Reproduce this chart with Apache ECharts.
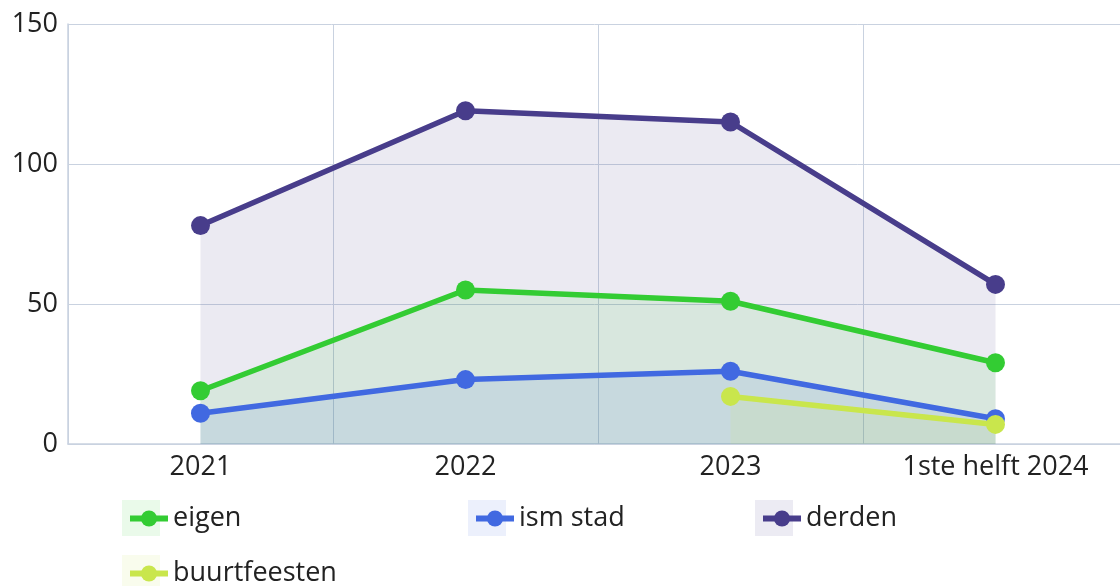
<!DOCTYPE html>
<html>
<head>
<meta charset="utf-8">
<script src="https://cdn.jsdelivr.net/npm/echarts@6/dist/echarts.min.js"></script>
<style>
  html, body { margin: 0; padding: 0; background: #fff; }
  #chart { width: 1120px; height: 586px; }
</style>
</head>
<body>
<div id="chart"></div>
<script>
const categories = ['2021', '2022', '2023', '1ste helft 2024'];
const eigen = [19, 55, 51, 29];
const ismStad = [11, 23, 26, 9];
const derden = [78, 119, 115, 57];
const buurtfeesten = [null, null, 17, 7];
const yTicks = { min: 0, max: 150, interval: 50 };

const font = 'Open Sans';
const gridColor = '#c9d2e0';

const colors = {
  eigen: '#33cc33',
  ismStad: '#4169e1',
  derden: '#483d8b',
  buurtfeesten: '#c9e64c'
};

function lineSeries(name, data, color, z) {
  return {
    name: name,
    type: 'line',
    data: data,
    z: z,
    symbol: 'circle',
    symbolSize: 19,
    color: color,
    lineStyle: { width: 5.5, color: color },
    itemStyle: { color: color },
    areaStyle: { color: color, opacity: 0.11 },
    emphasis: { disabled: true }
  };
}

function legendAt(name, left, top) {
  return {
    data: [name],
    left: left,
    top: top,
    itemWidth: 38,
    itemHeight: 20,
    lineStyle: { width: 6 },
    textStyle: { fontFamily: font, fontSize: 27, color: '#222' },
    selectedMode: false
  };
}

function iconBg(x, y, color) {
  return {
    type: 'rect',
    left: x, top: y, z: -1,
    shape: { width: 38, height: 36 },
    style: { fill: color, opacity: 0.1 }
  };
}

const chart = echarts.init(document.getElementById('chart'));
chart.setOption({
  animation: false,
  grid: { left: 68, width: 1060, top: 24, height: 420, outerBoundsMode: 'none', containLabel: false },
  xAxis: {
    type: 'category',
    data: categories,
    boundaryGap: true,
    axisLine: { show: true, lineStyle: { color: gridColor, width: 1.5 } },
    axisTick: { show: false },
    splitLine: { show: true, lineStyle: { color: gridColor, width: 1 } },
    axisLabel: { fontFamily: font, fontSize: 27, color: '#222', margin: 10 }
  },
  yAxis: {
    type: 'value',
    min: yTicks.min,
    max: yTicks.max,
    interval: yTicks.interval,
    axisLine: { show: true, lineStyle: { color: gridColor, width: 1.5 } },
    axisTick: { show: false },
    splitLine: { show: true, lineStyle: { color: gridColor, width: 1 } },
    axisLabel: { fontFamily: font, fontSize: 27, color: '#222', margin: 10 }
  },
  legend: [
    legendAt('eigen', 122, 500),
    legendAt('ism stad', 468, 500),
    legendAt('derden', 755, 500),
    legendAt('buurtfeesten', 122, 555)
  ],
  graphic: [
    iconBg(122, 500, colors.eigen),
    iconBg(468, 500, colors.ismStad),
    iconBg(755, 500, colors.derden),
    iconBg(122, 555, colors.buurtfeesten)
  ],
  series: [
    lineSeries('eigen', eigen, colors.eigen, 2),
    lineSeries('ism stad', ismStad, colors.ismStad, 3),
    lineSeries('derden', derden, colors.derden, 1),
    lineSeries('buurtfeesten', buurtfeesten, colors.buurtfeesten, 4)
  ]
});
window.addEventListener('resize', function () {
  chart.resize();
});
</script>
</body>
</html>
